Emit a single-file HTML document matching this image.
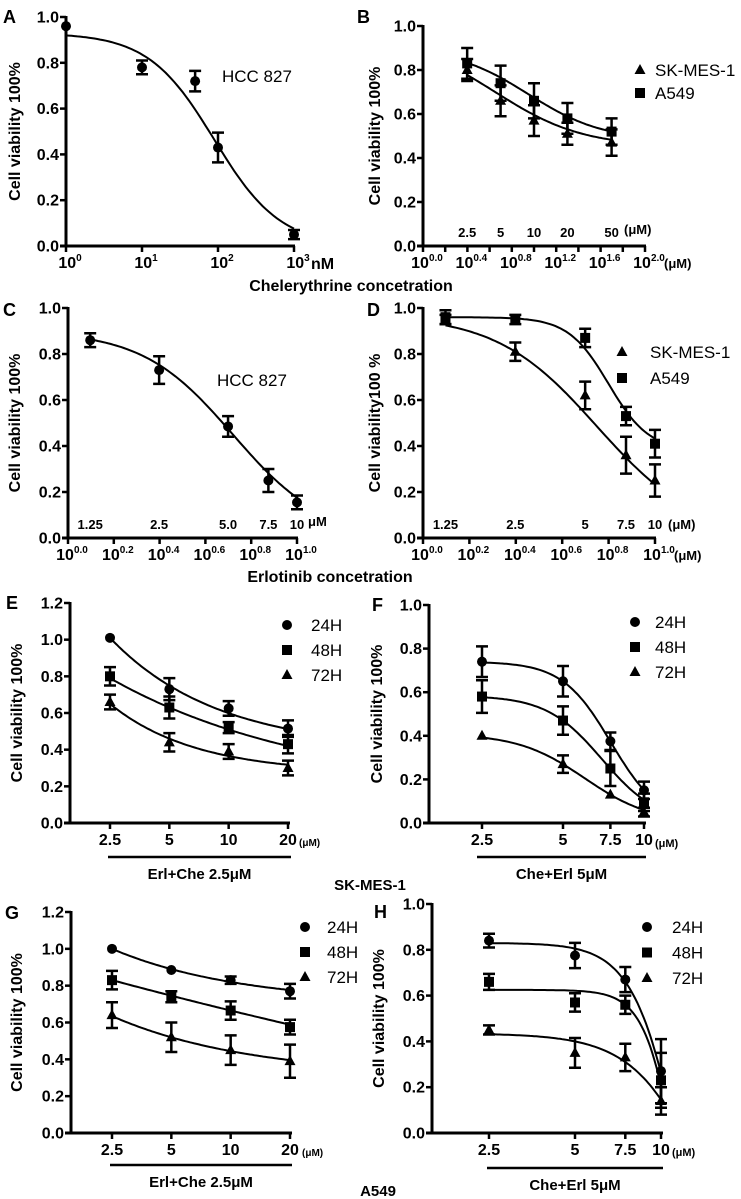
<!DOCTYPE html>
<html><head><meta charset="utf-8">
<style>
html,body{margin:0;padding:0;background:#fff;}
svg{display:block;font-family:"Liberation Sans",Arial,sans-serif;}
text{fill:#000;}
</style></head>
<body>
<svg id="fig" width="741" height="1199" viewBox="0 0 741 1199" xmlns="http://www.w3.org/2000/svg">
<text x="351" y="291" font-size="16" font-weight="bold" text-anchor="middle">Chelerythrine concetration</text>
<text x="330" y="582" font-size="16" font-weight="bold" text-anchor="middle">Erlotinib concetration</text>
<text x="370" y="890" font-size="15" font-weight="bold" text-anchor="middle">SK-MES-1</text>
<text x="378" y="1196" font-size="15" font-weight="bold" text-anchor="middle">A549</text>
</svg>
<script>
// ---------- data ----------
const aConc=[1,10,50,100,1000];
const aVal=[0.96,0.78,0.72,0.43,0.05];
const aErr=[0,0.03,0.045,0.065,0.02];
const aFit=[0.93,0,1.95,1];
const bConc=[2.5,5,10,20,50];
const bSkVal=[0.80,0.66,0.57,0.51,0.47];
const bSkErr=[0.05,0.07,0.07,0.05,0.06];
const bSkFit=[0.95,0.45,0.65,1.1];
const bAVal=[0.83,0.74,0.66,0.58,0.52];
const bAErr=[0.07,0.08,0.08,0.07,0.06];
const bAFit=[0.90,0.48,0.95,1.3];
const bTopLabels=["2.5","5","10","20","50"];
const cConc=[1.25,2.5,5,7.5,10];
const cVal=[0.86,0.73,0.485,0.25,0.155];
const cErr=[0.03,0.06,0.045,0.05,0.03];
const cFit=[0.90,0,0.72,2.2];
const cTopLabels=["1.25","2.5","5.0","7.5","10"];
const dConc=[1.25,2.5,5,7.5,10];
const dSkVal=[0.95,0.81,0.62,0.36,0.25];
const dSkErr=[0.02,0.04,0.06,0.08,0.07];
const dSkFit=[0.97,0,0.75,2];
const dAVal=[0.96,0.95,0.87,0.53,0.41];
const dAErr=[0.03,0.02,0.04,0.04,0.06];
const dAFit=[0.96,0.38,0.80,5];
const dTopLabels=["1.25","2.5","5","7.5","10"];
const eConc=[2.5,5,10,20];
const e24Val=[1.01,0.73,0.625,0.515]; const e24Err=[0,0.06,0.04,0.045]; const e24Fit=[0.395,1.01,1.83];
const e48Val=[0.80,0.63,0.52,0.43];   const e48Err=[0.05,0.06,0.03,0.05]; const e48Fit=[0.15,0.79,0.956];
const e72Val=[0.66,0.44,0.39,0.30];   const e72Err=[0.04,0.05,0.04,0.04]; const e72Fit=[0.27,0.65,2.3];
const fConc=[2.5,5,7.5,10];
const f24Val=[0.74,0.65,0.375,0.15]; const f24Err=[0.07,0.07,0.04,0.04]; const f24Fit=[0.74,0,0.877,4.8];
const f48Val=[0.58,0.47,0.25,0.095]; const f48Err=[0.075,0.065,0.08,0.04]; const f48Fit=[0.585,0,0.844,4.2];
const f72Val=[0.40,0.27,0.13,0.05];  const f72Err=[0,0.04,0,0.02]; const f72Fit=[0.41,0,0.78,3.5];
const gConc=[2.5,5,10,20];
const g24Val=[1.0,0.885,0.83,0.77];  const g24Err=[0,0,0.02,0.04]; const g24Fit=[0.70,1.0,1.52];
const g48Val=[0.83,0.74,0.665,0.575];const g48Err=[0.05,0.03,0.05,0.04]; const g48Fit=[-1,0.83,0.157];
const g72Val=[0.64,0.52,0.45,0.39];  const g72Err=[0.07,0.08,0.08,0.09]; const g72Fit=[0.305,0.635,1.43];
const hConc=[2.5,5,7.5,10];
const h24Val=[0.84,0.775,0.67,0.27]; const h24Err=[0.03,0.055,0.055,0.14]; const h24Fit=[0.83,-1.5,1.10,4.91];
const h48Val=[0.66,0.57,0.56,0.23];  const h48Err=[0.035,0.04,0.04,0.12]; const h48Fit=[0.625,-1.5,1.086,7.1];
const h72Val=[0.45,0.35,0.33,0.14];  const h72Err=[0.02,0.065,0.06,0.06]; const h72Fit=[0.435,-1.5,1.232,3.25];

// ---------- drawing ----------
const NS='http://www.w3.org/2000/svg';
const svg=document.getElementById('fig');
function mk(tag,attrs,parent){const e=document.createElementNS(NS,tag);for(const k in attrs)e.setAttribute(k,attrs[k]);(parent||svg).appendChild(e);return e;}
function hill(p,x){return p[1]+(p[0]-p[1])/(1+Math.pow(10,(x-p[2])*p[3]));}
function decay(p,x){return p[0]+(p[1]-p[0])*Math.exp(-p[2]*(x-Math.log10(2.5)));}

function panel(c){
  const g=mk('g',{});
  
  
  const sx=v=>c.px0+(v-c.d0)/(c.d1-c.d0)*(c.px1-c.px0);
  const sy=v=>c.y0-v/c.yMax*(c.y0-c.yTop);
  const L=mk('text',{x:c.lx,y:c.ly,'font-size':18,'font-weight':'bold'},g);L.textContent=c.id.toUpperCase();
  
  
  const yt=mk('text',{x:0,y:0,'font-size':16,'font-weight':'bold','text-anchor':'middle',transform:`translate(${c.ytx},${(c.y0+c.yTop)/2}) rotate(-90)`},g);yt.textContent=c.ytitle;
  
  
  const ya=mk('line',{x1:c.ox,y1:c.yTop-1,x2:c.ox,y2:c.y0+1.5,stroke:'#000','stroke-width':3},g);
  
  
  const xa=mk('line',{x1:c.ox-6,y1:c.y0,x2:c.xEnd,y2:c.y0,stroke:'#000','stroke-width':3},g);
  
  
  for(let v=0;v<=c.yMax+1e-9;v+=0.2){
    const y=sy(v);
    const t=mk('line',{x1:c.ox-6,y1:y,x2:c.ox,y2:y,stroke:'#000','stroke-width':2.5},g);
    
    
    const tl=mk('text',{x:c.ox-7,y:y+5.5,'font-size':16,'font-weight':'bold','text-anchor':'end'},g);tl.textContent=v.toFixed(1);
    
    
  }
  c.xticks.forEach((xv,i)=>{
    const x=sx(xv);
    const t=mk('line',{x1:x,y1:c.y0,x2:x,y2:c.y0+6,stroke:'#000','stroke-width':2.5},g);
    
    
    const lab=c.xlabels[i];
    if(lab==null)return;
    const tx=mk('text',{x:x+(c.pow?4:0),y:c.y0+22,'font-size':16,'font-weight':'bold','text-anchor':'middle'},g);
    
    
    if(c.pow){const a=mk('tspan',{},tx);a.textContent='10';const b=mk('tspan',{dy:-7,'font-size':10},tx);b.textContent=lab;}
    else tx.textContent=lab;
  });
  if(c.unit){const u=mk('text',{x:c.unitX,y:c.unitY,'font-size':c.unitSize,'font-weight':'bold'},g);u.textContent=c.unit;
    
    }
  if(c.top){c.top.forEach((s,i)=>{const t=mk('text',{x:sx(Math.log10(c.topConc[i])),y:c.y0-9,'font-size':13,'font-weight':'bold','text-anchor':'middle'},g);t.textContent=s;
    
    });
    const tu=mk('text',{x:c.topUnitX,y:c.y0-9-(c.topUnitUp||0),'font-size':13,'font-weight':'bold'},g);tu.textContent=c.topUnit;
    
    }
  if(c.under){const l=mk('line',{x1:c.under[0],y1:c.under[2],x2:c.under[1],y2:c.under[2],stroke:'#000','stroke-width':2.5},g);
    
    
    const t=mk('text',{x:(c.under[0]+c.under[1])/2,y:c.under[2]+22,'font-size':15,'font-weight':'bold','text-anchor':'middle'},g);t.textContent=c.underText;
    
    }
  if(c.note){const t=mk('text',{x:c.note[0],y:c.note[1],'font-size':17},g);t.textContent=c.note[2];
    
    }
  c.series.forEach(s=>{
    const sg=mk('g',{},g);
    
    
    let d='';const n=80;
    for(let i=0;i<=n;i++){const xv=c.c0+(c.c1-c.c0)*i/n;const yv=(s.model==='decay'?decay:hill)(s.fit,xv);d+=(i?'L':'M')+sx(xv).toFixed(1)+','+sy(yv).toFixed(1);}
    const cu=mk('path',{d:d,fill:'none',stroke:'#000','stroke-width':2},sg);
    
    
    s.conc.forEach((cv,i)=>{
      const x=sx(Math.log10(cv)),y=sy(s.val[i]),e=s.err[i];
      if(e>0){const eh=e/c.yMax*(c.y0-c.yTop);
        const eb=mk('path',{d:`M${x},${y-eh}L${x},${y+eh}M${x-6},${y-eh}L${x+6},${y-eh}M${x-6},${y+eh}L${x+6},${y+eh}`,stroke:'#000','stroke-width':2.5,fill:'none'},sg);
        
        }
      const m=marker(s.shape,x,y,sg);
      
      
    });
  });
  if(c.legend){c.series.forEach((s,i)=>{
    const y=c.legend[1]+i*c.legend[3];
    const m=marker(s.shape,c.legend[0],y,g);
    
    
    const t=mk('text',{x:c.legend[2],y:y+6,'font-size':17},g);t.textContent=s.name;
    
    
  });}
}
function marker(shape,x,y,p){
  if(shape==='circle')return mk('circle',{cx:x,cy:y,r:5,fill:'#000'},p);
  if(shape==='square')return mk('rect',{x:x-5,y:y-5,width:10,height:10,fill:'#000'},p);
  return mk('path',{d:`M${x},${y-6}L${x+5.5},${y+4}L${x-5.5},${y+4}Z`,fill:'#000'},p);
}
const L25=Math.log10(2.5);
const dec02=[0,0.2,0.4,0.6,0.8,1.0];
panel({id:'a',lx:3,ly:23,ytx:20,ytitle:'Cell viability 100%',ox:66,y0:246,yTop:17,yMax:1,px0:66,px1:294,d0:0,d1:3,xEnd:295,c0:0,c1:3,
  xticks:[0,1,2,3],xlabels:['0','1','2','3'],pow:true,unit:'nM',unitX:311,unitY:269,unitSize:16,note:[222,82,'HCC 827'],
  series:[{name:'HCC827',shape:'circle',conc:aConc,val:aVal,err:aErr,fit:aFit}]});
panel({id:'b',lx:357,ly:23,ytx:380,ytitle:'Cell viability 100%',ox:423,y0:246,yTop:26,yMax:1,px0:423,px1:645,d0:0,d1:2,xEnd:646,c0:L25,c1:Math.log10(50),
  xticks:[0,0.2,0.4,0.6,0.8,1,1.2,1.4,1.6,1.8,2],xlabels:['0.0',null,'0.4',null,'0.8',null,'1.2',null,'1.6',null,'2.0'],pow:true,unit:'(μM)',unitX:664,unitY:268,unitSize:13,
  top:bTopLabels,topConc:bConc,topUnit:'(μM)',topUnitX:624,topUnitUp:3,
  legend:[640,70,655,23],
  series:[{name:'SK-MES-1',shape:'tri',conc:bConc,val:bSkVal,err:bSkErr,fit:bSkFit},{name:'A549',shape:'square',conc:bConc,val:bAVal,err:bAErr,fit:bAFit}]});
panel({id:'c',lx:3,ly:316,ytx:20,ytitle:'Cell viability 100%',ox:68,y0:538,yTop:308,yMax:1,px0:68,px1:297,d0:0,d1:1,xEnd:298,c0:Math.log10(1.25),c1:1,
  xticks:dec02,xlabels:['0.0','0.2','0.4','0.6','0.8','1.0'],pow:true,note:[217,386,'HCC 827'],
  top:cTopLabels,topConc:cConc,topUnit:'μM',topUnitX:308,topUnitUp:3,
  series:[{name:'HCC827',shape:'circle',conc:cConc,val:cVal,err:cErr,fit:cFit}]});
panel({id:'d',lx:367,ly:316,ytx:380,ytitle:'Cell viability100 %',ox:423,y0:538,yTop:308,yMax:1,px0:423,px1:655,d0:0,d1:1,xEnd:656,c0:Math.log10(1.25),c1:1,
  xticks:dec02,xlabels:['0.0','0.2','0.4','0.6','0.8','1.0'],pow:true,unit:'(μM)',unitX:674,unitY:560,unitSize:13,
  top:dTopLabels,topConc:dConc,topUnit:'(μM)',topUnitX:668,topUnitUp:0,
  legend:[622,352,650,26],
  series:[{name:'SK-MES-1',shape:'tri',conc:dConc,val:dSkVal,err:dSkErr,fit:dSkFit},{name:'A549',shape:'square',conc:dConc,val:dAVal,err:dAErr,fit:dAFit}]});
panel({id:'e',lx:6,ly:609,ytx:22,ytitle:'Cell viability 100%',ox:70,y0:823,yTop:603,yMax:1.2,px0:110,px1:288,d0:L25,d1:Math.log10(20),xEnd:290,c0:L25,c1:Math.log10(20),
  xticks:eConc.map(Math.log10),xlabels:['2.5','5','10','20'],unit:'(μM)',unitX:299,unitY:846,unitSize:10,
  under:[108,291,857],underText:'Erl+Che 2.5μM',legend:[287,625,311,25],
  series:[{name:'24H',shape:'circle',model:'decay',conc:eConc,val:e24Val,err:e24Err,fit:e24Fit},
          {name:'48H',shape:'square',model:'decay',conc:eConc,val:e48Val,err:e48Err,fit:e48Fit},
          {name:'72H',shape:'tri',model:'decay',conc:eConc,val:e72Val,err:e72Err,fit:e72Fit}]});
panel({id:'f',lx:372,ly:611,ytx:382,ytitle:'Cell viability 100%',ox:429,y0:823,yTop:605,yMax:1,px0:482,px1:644,d0:L25,d1:1,xEnd:646,c0:L25,c1:1,
  xticks:fConc.map(Math.log10),xlabels:['2.5','5','7.5','10'],unit:'(μM)',unitX:655,unitY:847,unitSize:11,
  under:[477,646,857],underText:'Che+Erl 5μM',legend:[635,622,655,25],
  series:[{name:'24H',shape:'circle',conc:fConc,val:f24Val,err:f24Err,fit:f24Fit},
          {name:'48H',shape:'square',conc:fConc,val:f48Val,err:f48Err,fit:f48Fit},
          {name:'72H',shape:'tri',conc:fConc,val:f72Val,err:f72Err,fit:f72Fit}]});
panel({id:'g',lx:5,ly:919,ytx:22,ytitle:'Cell viability 100%',ox:71,y0:1133,yTop:912,yMax:1.2,px0:112,px1:290,d0:L25,d1:Math.log10(20),xEnd:292,c0:L25,c1:Math.log10(20),
  xticks:gConc.map(Math.log10),xlabels:['2.5','5','10','20'],unit:'(μM)',unitX:302,unitY:1156,unitSize:10,
  under:[110,292,1165],underText:'Erl+Che 2.5μM',legend:[305,927,327,25],
  series:[{name:'24H',shape:'circle',model:'decay',conc:gConc,val:g24Val,err:g24Err,fit:g24Fit},
          {name:'48H',shape:'square',model:'decay',conc:gConc,val:g48Val,err:g48Err,fit:g48Fit},
          {name:'72H',shape:'tri',model:'decay',conc:gConc,val:g72Val,err:g72Err,fit:g72Fit}]});
panel({id:'h',lx:374,ly:918,ytx:384,ytitle:'Cell viability 100%',ox:432,y0:1133,yTop:904,yMax:1,px0:489,px1:661,d0:L25,d1:1,xEnd:663,c0:L25,c1:1,
  xticks:hConc.map(Math.log10),xlabels:['2.5','5','7.5','10'],unit:'(μM)',unitX:672,unitY:1156,unitSize:11,
  under:[487,663,1168],underText:'Che+Erl 5μM',legend:[647,927,672,25.5],
  series:[{name:'24H',shape:'circle',conc:hConc,val:h24Val,err:h24Err,fit:h24Fit},
          {name:'48H',shape:'square',conc:hConc,val:h48Val,err:h48Err,fit:h48Fit},
          {name:'72H',shape:'tri',conc:hConc,val:h72Val,err:h72Err,fit:h72Fit}]});
</script>
</body></html>
